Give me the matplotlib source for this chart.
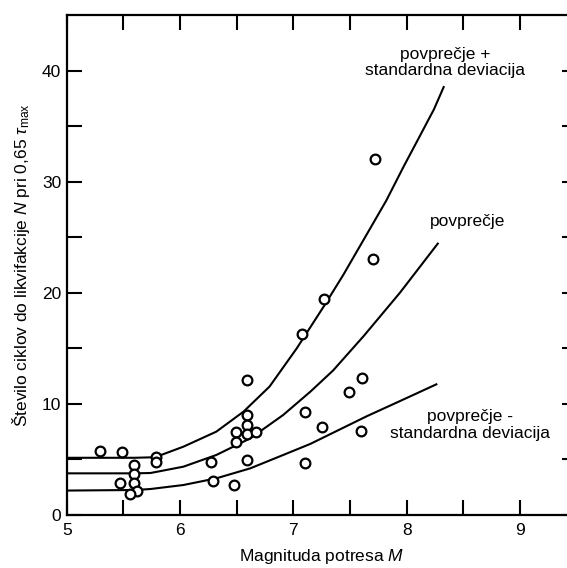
import matplotlib
matplotlib.use('Agg')
import matplotlib.pyplot as plt

plt.rcParams['font.family'] = ['Liberation Sans', 'DejaVu Sans']
plt.rcParams['mathtext.fontset'] = 'custom'
plt.rcParams['mathtext.rm'] = 'Liberation Sans'
plt.rcParams['mathtext.it'] = 'Liberation Sans:italic'

# measured points (magnitude, number of cycles)
mag = [5.29, 5.49, 5.59, 5.59, 5.47, 5.59, 5.62, 5.56, 5.79, 5.79,
       6.27, 6.29, 6.48, 6.59, 6.59, 6.59, 6.49, 6.59, 6.67, 6.49,
       6.59, 7.08, 7.27, 7.10, 7.25, 7.10, 7.49, 7.61, 7.60, 7.70, 7.72]
cycles = [5.8, 5.7, 4.5, 3.7, 2.85, 2.85, 2.2, 1.85, 5.2, 4.75,
          4.75, 3.1, 2.7, 12.15, 9.0, 8.1, 7.45, 7.3, 7.45, 6.55,
          4.95, 16.3, 19.45, 9.3, 7.95, 4.7, 11.1, 12.3, 7.6, 23.0, 32.0]

# curves
upper_x = [5.0, 5.6, 5.78, 6.03, 6.32, 6.56, 6.79, 7.03, 7.27, 7.44, 7.65, 7.82, 7.97, 8.10, 8.24, 8.33]
upper_y = [5.15, 5.15, 5.2, 6.15, 7.5, 9.3, 11.56, 15.0, 18.8, 21.6, 25.3, 28.3, 31.3, 33.8, 36.5, 38.6]
mean_x = [5.0, 5.6, 5.74, 6.03, 6.32, 6.62, 6.91, 7.15, 7.35, 7.62, 7.94, 8.28]
mean_y = [3.75, 3.75, 3.78, 4.35, 5.4, 6.9, 9.0, 11.1, 13.0, 16.1, 20.0, 24.5]
lower_x = [5.0, 5.6, 5.74, 6.03, 6.32, 6.62, 6.91, 7.15, 7.35, 7.65, 7.94, 8.27]
lower_y = [2.2, 2.25, 2.34, 2.7, 3.3, 4.2, 5.4, 6.4, 7.4, 8.9, 10.25, 11.8]

x_ticks = [5, 6, 7, 8, 9]
y_ticks = [0, 10, 20, 30, 40]


def main():
    fig = plt.figure(figsize=(5.67, 5.68), dpi=100)
    ax = fig.add_axes([0.1176, 0.0933, 0.8995, 0.8803])

    for xs, ys in [(upper_x, upper_y), (mean_x, mean_y), (lower_x, lower_y)]:
        ax.plot(xs, ys, color='black', lw=1.5, solid_capstyle='butt', solid_joinstyle='round')
    ax.plot(mag, cycles, 'o', ms=7, mfc='white', mec='black', mew=1.6, zorder=3)

    ax.text(8.34, 40.7, 'povprečje +\nstandardna deviacija', ha='center', va='center',
            fontsize=12.5, linespacing=1.1)
    ax.text(8.54, 26.4, 'povprečje', ha='center', va='center', fontsize=12.5)
    ax.text(8.56, 8.1, 'povprečje -\nstandardna deviacija', ha='center', va='center',
            fontsize=12.5, linespacing=1.1)

    ax.set_xlim(5, 9.5)
    ax.set_ylim(0, 45)
    ax.set_xticks([5, 5.5, 6, 6.5, 7, 7.5, 8, 8.5, 9])
    ax.set_xticklabels(['5', '', '6', '', '7', '', '8', '', '9'])
    ax.set_yticks([0, 5, 10, 15, 20, 25, 30, 35, 40])
    ax.set_yticklabels(['0', '', '10', '', '20', '', '30', '', '40'])
    ax.tick_params(direction='in', length=11, width=1.5, labelsize=12.5,
                   top=True, right=True)
    ax.tick_params(axis='x', pad=6)
    ax.tick_params(axis='y', pad=4)
    for s in ax.spines.values():
        s.set_linewidth(1.6)

    ax.set_xlabel('Magnituda potresa $\\mathit{M}$', fontsize=12.5, labelpad=6)
    ax.set_ylabel('Število ciklov do likvifakcije $\\mathit{N}$ pri 0,65 $\\tau_{\\mathrm{max}}$',
                  fontsize=12.5, labelpad=7)

    fig.savefig('out.png', dpi=100)


if __name__ == '__main__':
    main()
